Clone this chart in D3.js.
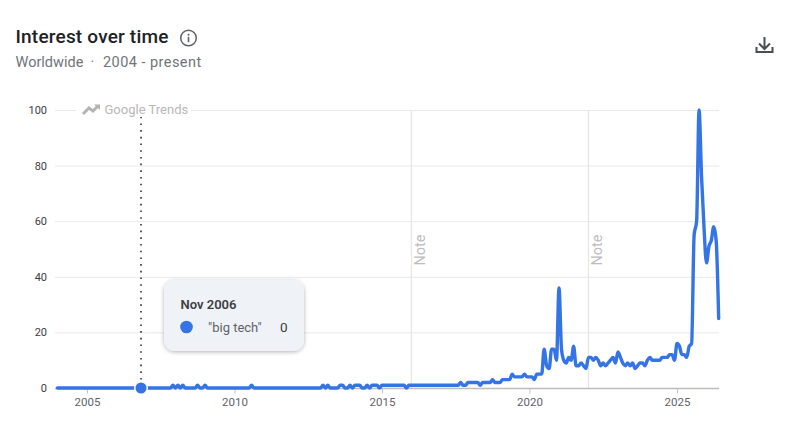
<!DOCTYPE html>
<html><head><meta charset="utf-8">
<script src="https://cdn.jsdelivr.net/npm/d3@7"></script>
<style>
html,body{margin:0;padding:0;background:#fff;overflow:hidden}
text{font-family:Roboto,"Noto Sans",sans-serif}
</style></head><body>
<svg id="c" width="800" height="442"></svg>
<script>
const startYear = 2004;
const v2004 = [0,0,0,0,0,0,0,0,0,0,0,0];
const v2005 = [0,0,0,0,0,0,0,0,0,0,0,0];
const v2006 = [0,0,0,0,0,0,0,0,0,0,0,0];
const v2007 = [0,0,0,0,0,0,0,0,0,0,0,1];
const v2008 = [0,1,0,1,0,0,0,0,0,1,0,0];
const v2009 = [1,0,0,0,0,0,0,0,0,0,0,0];
const v2010 = [0,0,0,0,0,0,0,1,0,0,0,0];
const v2011 = [0,0,0,0,0,0,0,0,0,0,0,0];
const v2012 = [0,0,0,0,0,0,0,0,0,0,0,0];
const v2013 = [1,0,1,0,0,0,0,1,1,0,0,1];
const v2014 = [0,1,1,1,0,0,1,0,1,1,1,0];
const v2015 = [1,1,1,1,1,1,1,1,1,1,0,1];
const v2016 = [1,1,1,1,1,1,1,1,1,1,1,1];
const v2017 = [1,1,1,1,1,1,1,1,2,1,1,2];
const v2018 = [2,2,2,2,1,2,2,2,2,3,2,2];
const v2019 = [2,3,3,3,3,5,4,4,4,4,5,4];
const v2020 = [4,4,3,5,5,5,14,8,7,14,14,10];
const v2021 = [36,14,10,9,11,10,15,8,8,9,8,7];
const v2022 = [11,11,10,11,10,8,9,8,9,10,11,9];
const v2023 = [13,11,9,8,9,8,9,7,8,9,9,8];
const v2024 = [10,11,10,10,10,10,11,11,11,12,12,10];
const v2025 = [16,15,12,12,11,15,16,55,60,100,76,58];
const v2026 = [45,51,53,58,53,25];
const yearly = [v2004,v2005,v2006,v2007,v2008,v2009,v2010,v2011,v2012,v2013,v2014,v2015,v2016,v2017,v2018,v2019,v2020,v2021,v2022,v2023,v2024,v2025,v2026];
const yTicks = [0,20,40,60,80,100];
const xTickYears = [2005,2010,2015,2020,2025];
const noteDates = [[2016,0],[2022,0]];
const seriesName = '"big tech"';
const hoverDate = [2006,10];
const titleText = "Interest over time";
const subTextA = "Worldwide \u00a0\u00b7\u00a0 ";
const subTextB = "2004 - present";
const brandText = "Google Trends";

const blue = "#3574e5";
const svg = d3.select("#c");
const D = (y,m)=>new Date(Date.UTC(y,m,1));
const points = [];
yearly.forEach((arr,i)=>arr.forEach((v,m)=>points.push({d:D(startYear+i,m),v})));

const x = d3.scaleUtc().domain([D(2005,0),D(2025,0)]).range([87,677]);
const y = d3.scaleLinear().domain([0,100]).range([388,110]);
const xEnd = 719, xStart = 55;

// gridlines
svg.append("g").selectAll("line").data(yTicks.slice(1)).join("line")
  .attr("x1",xStart).attr("x2",xEnd).attr("y1",d=>y(d)+.5).attr("y2",d=>y(d)+.5)
  .attr("stroke","#e9e9e9").attr("stroke-width",1);

// notes
const notes = svg.append("g");
noteDates.forEach(([yy,mm])=>{
  const nx = x(D(yy,mm));
  notes.append("line").attr("x1",nx).attr("x2",nx).attr("y1",y(100)).attr("y2",y(0))
    .attr("stroke","#e6e6e6").attr("stroke-width",1.3);
  notes.append("text").attr("transform",`translate(${nx+14},${y(50)+1}) rotate(-90)`)
    .attr("text-anchor","middle").attr("font-size",14.5).attr("fill","#bdbdbd").text("Note");
});

// axes
const yAxis = d3.axisLeft(y).tickValues(yTicks).tickSize(0).tickPadding(8);
const yg = svg.append("g").attr("transform",`translate(55,0)`).call(yAxis);
yg.select(".domain").remove();
yg.selectAll("text").attr("font-size",11).attr("fill","#3c4043").attr("font-family","Roboto");

const xAxis = d3.axisBottom(x).tickValues(xTickYears.map(t=>D(t,0))).tickFormat(d3.utcFormat("%Y")).tickSize(5).tickPadding(4);
const xg = svg.append("g").attr("transform",`translate(0,${y(0)+.5})`).call(xAxis);
xg.select(".domain").remove();
xg.selectAll("line").attr("stroke","#c4c4c4");
xg.selectAll("text").attr("font-size",11.5).attr("fill","#5f6368").attr("font-family","Roboto");
svg.append("line").attr("x1",xStart).attr("x2",xEnd).attr("y1",y(0)+.5).attr("y2",y(0)+.5).attr("stroke","#bdbdbd").attr("stroke-width",1.5);

// hover line
const hx = x(D(hoverDate[0],hoverDate[1]));
svg.append("line").attr("x1",hx).attr("x2",hx).attr("y1",y(100)).attr("y2",y(0))
  .attr("stroke","#55585c").attr("stroke-width",2).attr("stroke-dasharray","1.6 5.1").attr("stroke-linecap","butt");

// Brand on gridline
svg.append("rect").attr("x",76).attr("y",100).attr("width",115).attr("height",17).attr("fill","#fff");
svg.append("path").attr("d","M83 114 L89 108 L93 111 L98 106").attr("fill","none").attr("stroke","#b4b4b4").attr("stroke-width",3);
svg.append("path").attr("d","M94 104.5 L100 104.5 L100 110 Z").attr("fill","#b4b4b4");
svg.append("text").attr("x",104.5).attr("y",114).attr("font-size",13).attr("fill","#b8b8b8").text(brandText);

// series
const line = d3.line().x(d=>x(d.d)).y(d=>y(d.v)).curve(d3.curveMonotoneX);
svg.append("path").datum(points).attr("d",line).attr("fill","none")
  .attr("stroke",blue).attr("stroke-width",3.4).attr("stroke-linecap","round").attr("stroke-linejoin","round");

// hover point
const hp = points.find(p=>+p.d===+D(hoverDate[0],hoverDate[1]));
svg.append("circle").attr("cx",hx).attr("cy",y(hp.v)).attr("r",6.3).attr("fill",blue).attr("stroke","#fff").attr("stroke-width",1.5);

// tooltip
const defs = svg.append("defs");
const f = defs.append("filter").attr("id","sh").attr("x","-20%").attr("y","-20%").attr("width","140%").attr("height","150%");
f.append("feDropShadow").attr("dx",0).attr("dy",1).attr("stdDeviation",2).attr("flood-color","#000").attr("flood-opacity",.3);
const tip = svg.append("g");
tip.append("rect").attr("x",164).attr("y",280).attr("width",140).attr("height",71).attr("rx",11)
  .attr("fill","#eff2f7").attr("filter","url(#sh)");
tip.append("text").attr("x",180.5).attr("y",309).attr("font-size",13).attr("font-weight",600).attr("fill","#3c4043")
  .text(d3.utcFormat("%b %Y")(hp.d));
tip.append("circle").attr("cx",186.5).attr("cy",327).attr("r",6.3).attr("fill",blue);
tip.append("text").attr("x",208).attr("y",331.5).attr("font-size",13).attr("fill","#5f6368").text(seriesName);
tip.append("text").attr("x",287.5).attr("y",331.5).attr("text-anchor","end").attr("font-size",13.5).attr("fill","#3c4043").text(hp.v);

// header
svg.append("text").attr("x",15.5).attr("y",42.5).attr("font-size",19).attr("font-weight",500).attr("letter-spacing",.2).attr("fill","#202124").text(titleText);
const sub = svg.append("text").attr("x",15.5).attr("y",67).attr("font-size",14.5).attr("fill","#70757a");
sub.append("tspan").text(subTextA);
sub.append("tspan").attr("dx",1.5).attr("letter-spacing",.45).text(subTextB);
const ic = svg.append("g").attr("transform","translate(188.5,38)");
ic.append("circle").attr("r",7.8).attr("fill","none").attr("stroke","#5f6368").attr("stroke-width",1.5);
ic.append("circle").attr("cy",-3.3).attr("r",1).attr("fill","#5f6368");
ic.append("rect").attr("x",-.8).attr("y",-1.2).attr("width",1.6).attr("height",5.4).attr("fill","#5f6368");
const dl = svg.append("g").attr("stroke","#4a4d52").attr("stroke-width",2).attr("fill","none");
dl.append("path").attr("d","M764.5 37 V48.5 M759 43.5 L764.5 49 L770 43.5");
dl.append("path").attr("d","M756.5 47 V52 H772.5 V47");
</script>
</body></html>
